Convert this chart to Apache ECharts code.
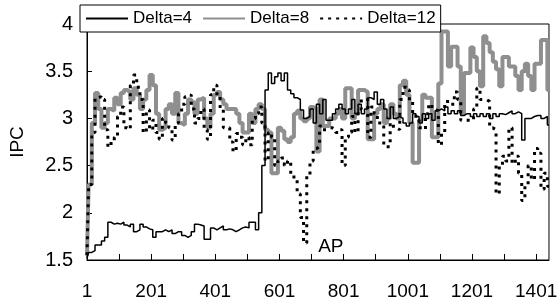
<!DOCTYPE html>
<html>
<head>
<meta charset="utf-8">
<script src="https://cdn.jsdelivr.net/npm/echarts@6/dist/echarts.min.js"></script>
<style>
  html, body { margin: 0; padding: 0; background: #fff; }
  #chart { width: 560px; height: 304px; }
</style>
</head>
<body>
<div id="chart"></div>
<script>
// sample positions: every 10th instruction window, 1 .. 1441
const xCats = [];
for (let i = 1; i <= 1441; i += 10) xCats.push(String(i));

const seriesNames = ["Delta=4", "Delta=8", "Delta=12"];

const delta4 = [
  1.52, 1.58, 1.6, 1.66, 1.66, 1.7, 1.74, 1.9, 1.88, 1.89,
  1.88, 1.9, 1.87, 1.85, 1.88, 1.8, 1.82, 1.88, 1.85, 1.83,
  1.82, 1.74, 1.8, 1.8, 1.82, 1.8, 1.82, 1.78, 1.8, 1.8,
  1.76, 1.74, 1.76, 1.8, 1.88, 1.87, 1.86, 1.72, 1.72, 1.84,
  1.82, 1.84, 1.86, 1.82, 1.83, 1.82, 1.8, 1.82, 1.84, 1.85,
  1.84, 1.9, 1.9, 1.82, 2.0, 2.5, 3.3, 3.48, 3.37, 3.44,
  3.48, 3.4, 3.48, 3.3, 3.26, 3.22, 3.2, 3.09, 3.0, 3.02,
  3.1, 2.95, 3.15, 3.05, 3.2, 2.98, 2.98, 3.05, 3.1, 3.15,
  3.1, 3.05, 3.1, 3.2, 3.05, 3.15, 3.05, 3.1, 3.22, 3.2,
  3.28, 3.15, 3.2, 3.1, 3.0, 3.12, 3.0, 3.02, 3.0, 2.95,
  2.92, 2.95, 3.05, 3.02, 2.95, 3.05, 3.0, 3.05, 2.98, 3.08,
  3.1, 3.08, 3.12, 3.05, 3.08, 3.05, 3.08, 3.03, 3.05, 3.05,
  3.02, 3.05, 3.02, 3.05, 3.02, 3.05, 3.0, 3.05, 3.02, 3.05,
  3.04, 3.06, 3.08, 3.05, 3.07, 3.05, 2.77, 3.0, 3.0, 3.02,
  3.03, 3.03, 3.0, 3.02, 2.93
];

const delta8 = [
  1.55, 2.3, 2.95, 3.27, 3.1, 2.9, 2.95, 3.1, 3.08, 3.22,
  3.15, 3.27, 3.3, 3.28, 3.2, 3.32, 3.25, 3.1, 3.2, 3.3,
  3.46, 3.35, 3.05, 2.88, 2.9, 3.1, 3.15, 3.05, 3.27, 2.95,
  2.93, 3.05, 3.2, 3.17, 3.05, 3.2, 3.22, 3.0, 2.9, 3.05,
  3.25, 3.28, 3.2, 3.15, 3.1, 3.1, 3.1, 3.05, 2.95, 2.85,
  2.85, 3.05, 2.95, 3.1, 3.15, 3.1, 2.88, 2.85, 2.42, 2.42,
  2.9, 2.87, 2.78, 2.75, 2.8, 3.05, 3.08, 3.0, 2.97, 3.0,
  3.12, 3.1, 2.65, 3.2, 2.92, 2.92, 3.0, 3.0, 3.05, 3.1,
  3.0, 3.32, 3.32, 3.0, 3.05, 3.3, 3.3, 3.28, 2.78, 2.78,
  3.05, 3.1, 3.15, 2.95, 3.0, 3.15, 3.05, 3.0, 3.35, 3.4,
  3.25, 2.95, 2.53, 2.53, 2.98, 3.25, 3.22, 3.22, 2.8, 2.8,
  3.37, 3.92, 3.92, 3.55, 3.76, 3.76, 3.55, 3.05, 3.48, 3.48,
  3.75, 3.65, 3.5, 3.34, 3.87, 3.8, 3.7, 3.6, 3.52, 3.34,
  3.65, 3.65, 3.55, 3.55, 3.45, 3.3, 3.5, 3.58, 3.45, 3.3,
  3.58, 3.58, 3.83, 3.83, 3.3
];

const delta12 = [
  1.55, 2.3, 2.85, 3.22, 3.23, 3.2, 2.88, 2.7, 2.75, 2.8,
  3.02, 3.12, 2.9, 2.88, 3.35, 3.46, 3.33, 3.2, 2.85, 3.09,
  2.88, 2.98, 2.85, 2.78, 3.0, 2.95, 2.9, 2.77, 2.95, 3.05,
  3.15, 3.23, 3.25, 3.1, 2.95, 3.0, 3.1, 2.88, 2.78, 3.25,
  3.35, 3.23, 3.1, 2.9, 2.9, 2.75, 2.65, 2.84, 2.8, 2.72,
  2.8, 2.72, 3.0, 3.05, 3.12, 2.95, 2.55, 2.85, 2.8, 2.5,
  2.55, 2.58, 2.5, 2.55, 2.4, 2.35, 2.2, 1.95, 1.68, 2.4,
  2.55, 2.68, 2.7, 2.92, 2.88, 2.9, 2.9, 2.88, 2.85, 2.88,
  2.5, 2.8, 2.85, 3.02, 2.85, 3.1, 3.2, 3.2, 2.8, 3.12,
  3.05, 2.95, 2.95, 2.7, 2.7, 2.95, 2.9, 2.88, 3.2, 3.33,
  3.3, 3.18, 3.05, 3.0, 2.9, 2.88, 3.05, 3.15, 3.1, 3.08,
  2.72, 2.85, 3.18, 3.18, 3.15, 3.28, 3.2, 2.98, 2.98, 2.98,
  2.98, 3.1, 3.32, 3.2, 3.2, 3.18, 2.9, 2.88, 2.2, 2.5,
  2.6, 2.55, 2.9, 2.52, 2.6, 2.42, 2.13, 2.3, 2.5, 2.35,
  2.68, 2.63, 2.25, 2.42, 2.28
];

const yTicks = { min: 1.5, max: 4, step: 0.5 };
const apLabel = { text: "AP", x: "761", y: 1.64 };

const font = 'Arial, "Liberation Sans", sans-serif';
const chart = echarts.init(document.getElementById("chart"));

chart.setOption({
  animation: false,
  textStyle: { fontFamily: font, color: "#000" },
  grid: {
    left: 77, right: 8, top: 24, bottom: 44,
    show: true, borderColor: "#000", borderWidth: 1
  },
  legend: {
    data: seriesNames,
    left: 80, top: 5,
    padding: [5, 5, 5, 5],
    itemWidth: 42, itemHeight: 14, itemGap: 10,
    backgroundColor: "#fff",
    borderColor: "#000", borderWidth: 1,
    itemStyle: { opacity: 0 },
    textStyle: { fontSize: 17, color: "#000", fontFamily: font }
  },
  xAxis: {
    type: "category",
    data: xCats,
    boundaryGap: false,
    axisLine: { lineStyle: { color: "#000", width: 1 } },
    axisTick: {
      inside: true, length: 6,
      interval: (i) => i % 10 === 0,
      lineStyle: { color: "#000" }
    },
    axisLabel: {
      interval: (i) => i % 20 === 0,
      fontSize: 19, color: "#000", margin: 22, fontFamily: font
    },
    splitLine: { show: false }
  },
  yAxis: {
    type: "value",
    min: yTicks.min, max: yTicks.max, interval: yTicks.step,
    name: "IPC",
    nameLocation: "middle",
    nameGap: 60,
    nameRotate: 90,
    nameTextStyle: { fontSize: 19, color: "#000", fontFamily: font },
    axisLine: { show: true, lineStyle: { color: "#000", width: 1 } },
    axisTick: { show: true, inside: true, length: 5, lineStyle: { color: "#000" } },
    axisLabel: { fontSize: 20, color: "#000", margin: 14, fontFamily: font },
    splitLine: { show: false }
  },
  series: [
    {
      name: seriesNames[0],
      type: "line",
      step: "middle",
      symbol: "none",
      data: delta4,
      z: 4,
      itemStyle: { color: "#000" },
      lineStyle: { color: "#000", width: 1.5 }
    },
    {
      name: seriesNames[1],
      type: "line",
      step: "middle",
      symbol: "none",
      data: delta8,
      z: 2,
      itemStyle: { color: "#8f8f8f" },
      lineStyle: { color: "#8f8f8f", width: 4 }
    },
    {
      name: seriesNames[2],
      type: "line",
      step: "middle",
      symbol: "none",
      data: delta12,
      z: 3,
      itemStyle: { color: "#000" },
      lineStyle: { color: "#000", width: 3, type: [3, 5] },
      markPoint: {
        symbol: "circle",
        symbolSize: 1,
        itemStyle: { color: "rgba(0,0,0,0)" },
        label: {
          show: true, position: "inside",
          formatter: apLabel.text,
          fontSize: 19, color: "#000", fontFamily: font
        },
        data: [{ coord: [apLabel.x, apLabel.y] }]
      }
    }
  ]
});
</script>
</body>
</html>
